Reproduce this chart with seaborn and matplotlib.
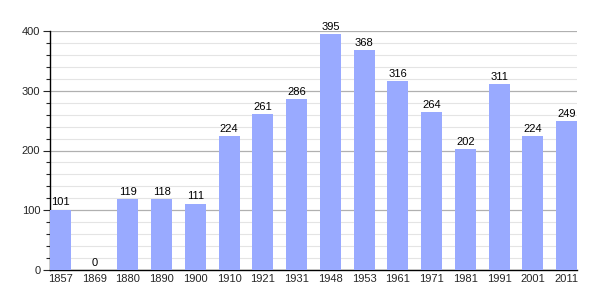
import matplotlib
matplotlib.use("Agg")
import matplotlib.pyplot as plt
import seaborn as sns
import pandas as pd
from matplotlib.ticker import MultipleLocator

years = ["1857", "1869", "1880", "1890", "1900", "1910", "1921", "1931",
         "1948", "1953", "1961", "1971", "1981", "1991", "2001", "2011"]
population = [101, 0, 119, 118, 111, 224, 261, 286, 395, 368, 316, 264, 202, 311, 224, 249]

df = pd.DataFrame({"year": years, "pop": population})

sns.set_style("white")
plt.rcParams['font.family'] = ['Liberation Sans', 'DejaVu Sans']

fig = plt.figure(figsize=(6.05, 3.0), dpi=100)
ax = fig.add_axes([50/605, 30/300, 527/605, 239/300])

sns.barplot(data=df, x="year", y="pop", color="#99aaff", saturation=1,
            width=0.62, ax=ax, zorder=3, linewidth=0, edgecolor="none")

ax.set_ylim(0, 400)
ax.set_xlim(-0.31, len(years) - 1 + 0.31)
ax.yaxis.set_major_locator(MultipleLocator(100))
ax.yaxis.set_minor_locator(MultipleLocator(20))
ax.grid(which="major", axis="y", color="#b0b0b0", linewidth=0.9, zorder=1)
ax.grid(which="minor", axis="y", color="#e4e4e4", linewidth=0.8, zorder=1)
ax.set_axisbelow(True)

for s in ["top", "right"]:
    ax.spines[s].set_visible(False)
for s in ["left", "bottom"]:
    ax.spines[s].set_color("black")
    ax.spines[s].set_linewidth(1.0)

ax.tick_params(axis="y", which="major", length=5, width=0.8, labelsize=8, left=True, pad=2)
ax.tick_params(axis="y", which="minor", length=3, width=0.8, left=True)
ax.tick_params(axis="x", length=0, labelsize=8, pad=3)
ax.set_xlabel("")
ax.set_ylabel("")

for i, v in enumerate(population):
    ax.text(i, v + 4, str(v), ha="center", va="bottom", fontsize=8, color="black")

fig.savefig("out.png", dpi=100)
